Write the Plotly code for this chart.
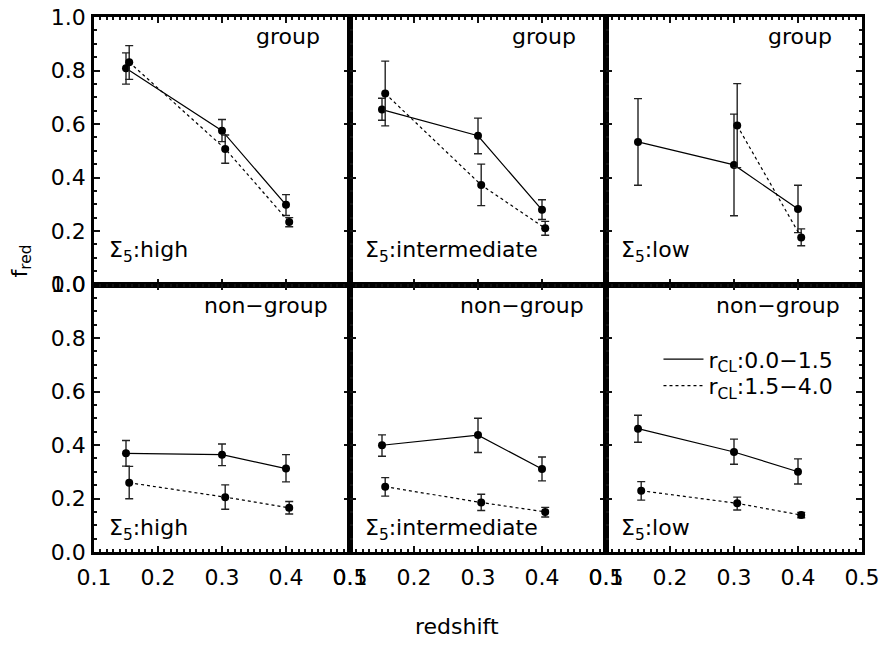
import plotly.graph_objects as go
from plotly.subplots import make_subplots

# ---------------- data ----------------
z_solid = [0.15, 0.30, 0.40]
z_dotted = [0.155, 0.305, 0.405]

panels = ["group_high", "group_int", "group_low", "non_high", "non_int", "non_low"]

# solid: r_CL 0.0-1.5
solid_y = {
    "group_high": [0.808, 0.575, 0.298],
    "group_int":  [0.654, 0.556, 0.279],
    "group_low":  [0.533, 0.447, 0.282],
    "non_high":   [0.369, 0.364, 0.312],
    "non_int":    [0.399, 0.437, 0.310],
    "non_low":    [0.461, 0.374, 0.300],
}
solid_hi = {
    "group_high": [0.866, 0.617, 0.336],
    "group_int":  [0.696, 0.622, 0.317],
    "group_low":  [0.695, 0.637, 0.371],
    "non_high":   [0.417, 0.404, 0.364],
    "non_int":    [0.438, 0.500, 0.355],
    "non_low":    [0.511, 0.422, 0.348],
}
solid_lo = {
    "group_high": [0.749, 0.534, 0.258],
    "group_int":  [0.614, 0.489, 0.243],
    "group_low":  [0.371, 0.257, 0.194],
    "non_high":   [0.321, 0.323, 0.262],
    "non_int":    [0.358, 0.372, 0.266],
    "non_low":    [0.410, 0.328, 0.254],
}
# dotted: r_CL 1.5-4.0
dotted_y = {
    "group_high": [0.831, 0.507, 0.234],
    "group_int":  [0.714, 0.372, 0.210],
    "group_low":  [None, 0.594, 0.176],
    "non_high":   [0.259, 0.205, 0.165],
    "non_int":    [0.244, 0.185, 0.150],
    "non_low":    [0.229, 0.182, 0.138],
}
dotted_hi = {
    "group_high": [0.893, 0.559, 0.250],
    "group_int":  [0.835, 0.450, 0.236],
    "group_low":  [None, 0.751, 0.208],
    "non_high":   [0.320, 0.251, 0.189],
    "non_int":    [0.278, 0.216, 0.167],
    "non_low":    [0.263, 0.205, 0.148],
}
dotted_lo = {
    "group_high": [0.767, 0.453, 0.216],
    "group_int":  [0.593, 0.295, 0.184],
    "group_low":  [None, 0.437, 0.145],
    "non_high":   [0.199, 0.160, 0.142],
    "non_int":    [0.209, 0.155, 0.131],
    "non_low":    [0.194, 0.157, 0.128],
}

env_labels = ["group", "group", "group", "non\u2212group", "non\u2212group", "non\u2212group"]
sigma_labels = ["\u03a3<sub>5</sub>:high", "\u03a3<sub>5</sub>:intermediate", "\u03a3<sub>5</sub>:low"] * 2
legend_names = ["r<sub>CL</sub>:0.0\u22121.5", "r<sub>CL</sub>:1.5\u22124.0"]

FONT = "DejaVu Sans"
FS = 22
TICKC = "#111111"


def errs(y, hi, lo):
    plus = [None if v is None else h - v for v, h in zip(y, hi)]
    minus = [None if v is None else v - l for v, l in zip(y, lo)]
    return plus, minus


fig = make_subplots(rows=2, cols=3, horizontal_spacing=0, vertical_spacing=0)

for i, p in enumerate(panels):
    r = i // 3 + 1
    c = i % 3 + 1
    for xs, ys, his, los, dash in [
        (z_solid, solid_y, solid_hi, solid_lo, "solid"),
        (z_dotted, dotted_y, dotted_hi, dotted_lo, "dot"),
    ]:
        plus, minus = errs(ys[p], his[p], los[p])
        fig.add_trace(
            go.Scatter(
                x=xs, y=ys[p], mode="lines+markers",
                line=dict(color="black", width=1.2, dash=dash),
                marker=dict(color="black", size=8),
                error_y=dict(type="data", symmetric=False, array=plus, arrayminus=minus,
                             color="#222", thickness=1.4, width=4),
                showlegend=False, connectgaps=False,
            ),
            row=r, col=c,
        )

# legend-only traces, one per legend box
for name, dash, lg in zip(legend_names, ["solid", "dot"], ["legend", "legend2"]):
    fig.add_trace(
        go.Scatter(x=[None], y=[None], mode="lines", name=name, legend=lg,
                   line=dict(color="black", width=1.2, dash=dash), showlegend=True),
        row=2, col=3,
    )

for i in range(6):
    r = i // 3 + 1
    c = i % 3 + 1
    fig.update_xaxes(
        range=[0.1, 0.5], dtick=0.1, tickformat=".1f",
        showticklabels=(r == 2), showgrid=False, zeroline=False,
        showline=True, linecolor="black", linewidth=2.6, mirror="allticks",
        ticks="inside", ticklen=6, tickwidth=1.6, tickcolor=TICKC,
        minor=dict(ticks="inside", ticklen=3, dtick=0.01, tickcolor=TICKC),
        ticklabelstandoff=4,
        tickfont=dict(family=FONT, size=FS, color="black"),
        row=r, col=c,
    )
    fig.update_yaxes(
        range=[0, 1], dtick=0.2, tickformat=".1f",
        showticklabels=(c == 1), showgrid=False, zeroline=False,
        showline=True, linecolor="black", linewidth=2.6, mirror="allticks",
        ticks="inside", ticklen=6, tickwidth=1.6, tickcolor=TICKC,
        minor=dict(ticks="inside", ticklen=3, dtick=0.05, tickcolor=TICKC),
        ticklabelstandoff=1,
        tickfont=dict(family=FONT, size=FS, color="black"),
        row=r, col=c,
    )

# panel texts
env_x = [0.35, 0.35, 0.35, 0.269, 0.269, 0.269]
env_y = [0.926, 0.926, 0.926, 0.92, 0.92, 0.92]
sig_y = [0.125, 0.125, 0.125, 0.083, 0.083, 0.083]
for i in range(6):
    xr = "x" if i == 0 else f"x{i+1}"
    yr = "y" if i == 0 else f"y{i+1}"
    fig.add_annotation(x=env_x[i], y=env_y[i], xref=xr, yref=yr, text=env_labels[i],
                       showarrow=False, xanchor="left", yanchor="middle",
                       font=dict(family=FONT, size=FS, color="black"))
    fig.add_annotation(x=0.12, y=sig_y[i], xref=xr, yref=yr, text=sigma_labels[i],
                       showarrow=False, xanchor="left", yanchor="middle",
                       font=dict(family=FONT, size=FS, color="black"))

fig.add_annotation(x=-0.095, y=0.543, xref="paper", yref="paper", text="f<sub>red</sub>",
                   textangle=-90, showarrow=False, xanchor="center", yanchor="middle",
                   font=dict(family=FONT, size=FS, color="black"))
fig.add_annotation(x=0.473, y=-0.139, xref="paper", yref="paper", text="redshift",
                   showarrow=False, xanchor="center", yanchor="middle",
                   font=dict(family=FONT, size=FS, color="black"))

leg_common = dict(xanchor="left", yanchor="middle", bgcolor="rgba(0,0,0,0)",
                  font=dict(family=FONT, size=FS, color="black"), itemwidth=40)
fig.update_layout(
    width=885, height=645,
    margin=dict(l=94, r=18, t=5, b=93),
    paper_bgcolor="white", plot_bgcolor="white",
    font=dict(family=FONT, size=FS, color="black"),
    legend=dict(x=0.735, y=(552 - 355) / 547, **leg_common),
    legend2=dict(x=0.735, y=(552 - 382) / 547, **leg_common),
)

fig.write_html("out.html")
